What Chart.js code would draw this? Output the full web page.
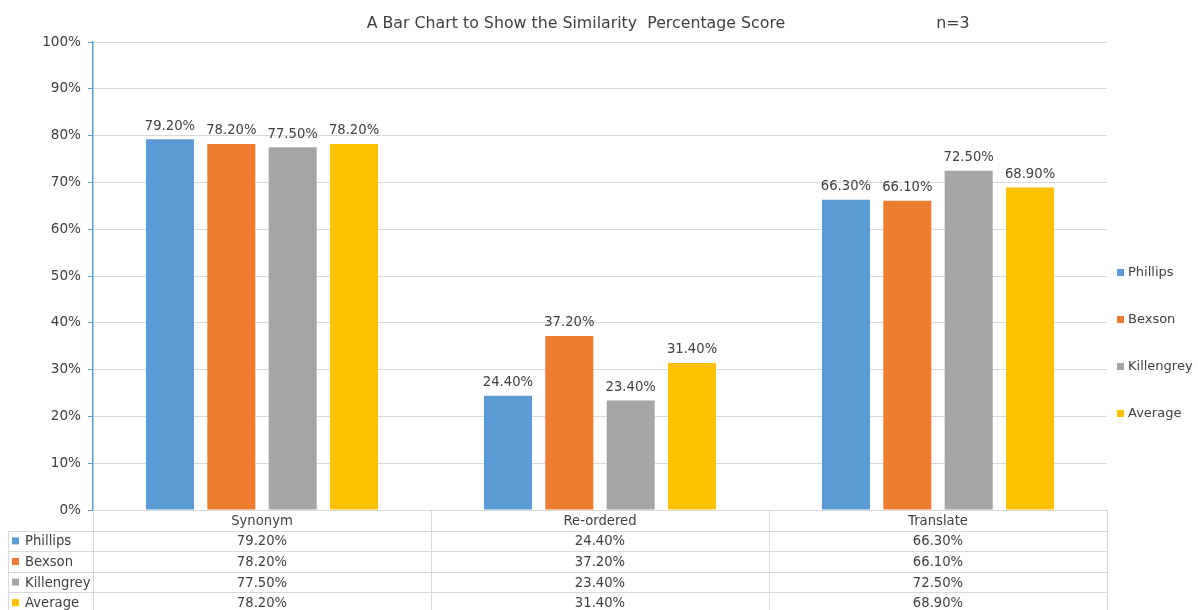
<!DOCTYPE html>
<html>
<head>
<meta charset="utf-8">
<script src="https://cdn.jsdelivr.net/npm/chart.js@4"></script>
<style>
html,body{margin:0;padding:0;background:#fff;}
#wrap{width:1198px;height:610px;position:relative;}
</style>
</head>
<body>
<div id="wrap"><canvas id="c" width="1198" height="610"></canvas></div>
<script>
const categories = ['Synonym', 'Re-ordered', 'Translate'];
const seriesNames = ['Phillips', 'Bexson', 'Killengrey', 'Average'];
const phillips = [79.2, 24.4, 66.3];
const bexson = [78.2, 37.2, 66.1];
const killengrey = [77.5, 23.4, 72.5];
const average = [78.2, 31.4, 68.9];
const seriesColors = ['#5B9BD5', '#ED7D31', '#A5A5A5', '#FFC000'];
const yTicks = [0, 10, 20, 30, 40, 50, 60, 70, 80, 90, 100];
const titleText = 'A Bar Chart to Show the Similarity\u00a0 Percentage Score';
const noteText = 'n=3';

const FONT = '"DejaVu Sans", Verdana, sans-serif';
const seriesValues = [phillips, bexson, killengrey, average];
const fmt = v => v.toFixed(2) + '%';

const extras = {
  id: 'extras',
  beforeDraw(chart) {
    const ctx = chart.ctx;
    ctx.save();
    ctx.fillStyle = '#fff';
    ctx.fillRect(0, 0, chart.width, chart.height);
    ctx.restore();
  },
  afterDatasetsDraw(chart) {
    const ctx = chart.ctx;
    ctx.save();
    ctx.font = '13.2px ' + FONT;
    ctx.fillStyle = '#404040';
    ctx.textAlign = 'center';
    ctx.textBaseline = 'middle';
    chart.data.datasets.forEach((ds, i) => {
      const meta = chart.getDatasetMeta(i);
      meta.data.forEach((bar, j) => {
        ctx.fillText(fmt(ds.data[j]), bar.x, bar.y - 13);
      });
    });
    ctx.restore();
  },
  afterDraw(chart) {
    const ctx = chart.ctx;
    const area = chart.chartArea;
    const xs = chart.scales.x;
    ctx.save();
    // title
    ctx.font = '15.8px ' + FONT;
    ctx.fillStyle = '#404040';
    ctx.textAlign = 'center';
    ctx.textBaseline = 'middle';
    ctx.fillText(titleText, 576, 23.5);
    ctx.fillText(noteText, 953, 23.5);

    // legend
    ctx.font = '13px ' + FONT;
    ctx.textAlign = 'left';
    const legY = [272.5, 319.5, 366.5, 413.5];
    seriesNames.forEach((n, i) => {
      ctx.fillStyle = seriesColors[i];
      ctx.fillRect(1117, legY[i] - 3.5, 7, 7);
      ctx.fillStyle = '#404040';
      ctx.fillText(n, 1128, legY[i] + 0.5);
    });

    // data table
    const top = area.bottom;
    const rowH = 20.6;
    const catW = (area.right - area.left) / categories.length;
    const tableLeft = 8;
    ctx.strokeStyle = '#d9d9d9';
    ctx.lineWidth = 1;
    ctx.beginPath();
    ctx.moveTo(area.left, top + 0.5); ctx.lineTo(area.right, top + 0.5);
    for (let r = 1; r <= seriesNames.length + 1; r++) {
      const y = Math.round(top + r * rowH) + 0.5;
      ctx.moveTo(tableLeft, y); ctx.lineTo(area.right, y);
    }
    const bottom = top + (seriesNames.length + 1) * rowH;
    ctx.moveTo(tableLeft + 0.5, Math.round(top + rowH)); ctx.lineTo(tableLeft + 0.5, bottom);
    for (let c = 1; c <= categories.length; c++) {
      const x = Math.round(area.left + c * catW) + 0.5;
      ctx.moveTo(x, top); ctx.lineTo(x, bottom);
    }
    ctx.stroke();
    ctx.beginPath();
    ctx.moveTo(Math.round(area.left) + 0.5, top + 1); ctx.lineTo(Math.round(area.left) + 0.5, bottom);
    ctx.stroke();

    ctx.font = '13.2px ' + FONT;
    ctx.fillStyle = '#404040';
    ctx.textAlign = 'center';
    categories.forEach((cat, j) => {
      const cx = xs.getPixelForValue(j);
      ctx.fillText(cat, cx, top + rowH / 2 + 1);
      seriesValues.forEach((vals, i) => {
        ctx.fillText(fmt(vals[j]), cx, top + (i + 1.5) * rowH + 1);
      });
    });
    ctx.textAlign = 'left';
    seriesNames.forEach((n, i) => {
      const cy = top + (i + 1.5) * rowH;
      ctx.fillStyle = seriesColors[i];
      ctx.fillRect(12, cy - 3.5, 7, 7);
      ctx.fillStyle = '#404040';
      ctx.fillText(n, 25, cy + 1);
    });
    ctx.restore();
  }
};

const datasets = seriesNames.map((n, i) => ({
  label: n,
  data: seriesValues[i],
  backgroundColor: seriesColors[i],
  borderWidth: 0,
  categoryPercentage: 0.726,
  barPercentage: 0.783
}));

new Chart(document.getElementById('c'), {
  type: 'bar',
  data: { labels: categories, datasets },
  options: {
    responsive: false,
    animation: false,
    devicePixelRatio: 1,
    layout: { padding: { top: 42, right: 91, bottom: 100, left: 0 } },
    plugins: {
      legend: { display: false },
      title: { display: false },
      tooltip: { enabled: false }
    },
    scales: {
      x: {
        display: false
      },
      y: {
        min: 0,
        max: 100,
        afterBuildTicks(scale) { scale.ticks = yTicks.map(v => ({ value: v })); },
        afterFit(scale) { scale.width = 93; },
        ticks: {
          callback: v => v + '%',
          font: { family: FONT, size: 13.6 },
          color: '#404040',
          padding: 7
        },
        grid: {
          color: '#d9d9d9',
          tickColor: '#5B9BD5',
          tickLength: 5,
          drawTicks: true
        },
        border: { color: '#5B9BD5', width: 1.5 }
      }
    }
  },
  plugins: [extras]
});
</script>
</body>
</html>
